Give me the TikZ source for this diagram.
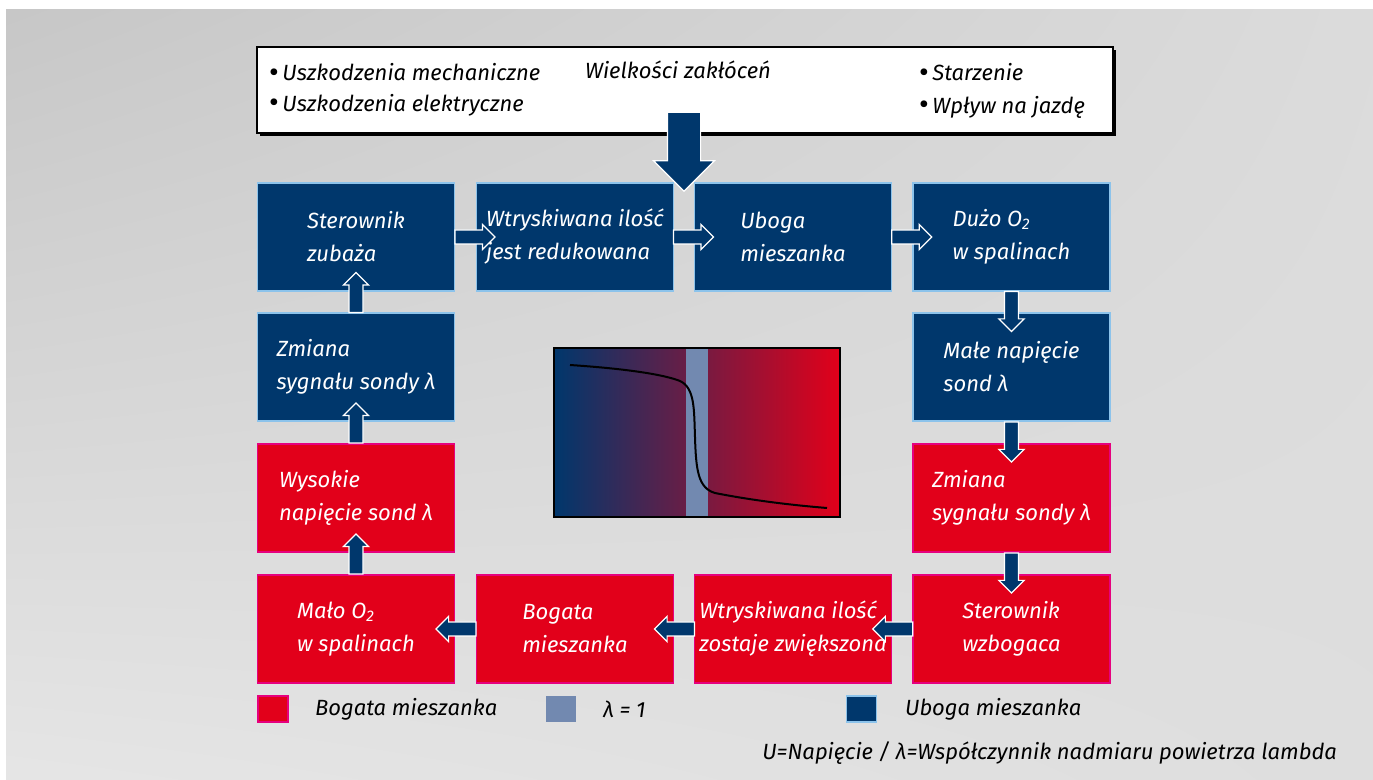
\documentclass[tikz,border=0pt]{standalone}
\usepackage{fontspec}
\setmainfont{Fira Sans}
\usetikzlibrary{shapes.arrows,shadows,shadings}
\definecolor{uboga}{RGB}{0,55,108}
\definecolor{bogata}{RGB}{226,0,26}
\definecolor{posrednia}{RGB}{122,58,88}
\definecolor{lambda}{RGB}{114,137,176}
\definecolor{ramkab}{RGB}{140,195,235}
\definecolor{ramkar}{RGB}{230,0,126}
\newcommand\kropka{{\upshape\fontsize{15}{15}\selectfont\raisebox{-0.6pt}{•}}}
\begin{document}
\begin{tikzpicture}[x=0.5pt,y=-0.5pt,
  txt/.style={font={\fontsize{11}{16.5}\selectfont\itshape}},
  box/.style={txt, minimum width=98.5pt, minimum height=54pt, inner sep=0pt, align=left, text=white, line width=0.6pt},
  ubox/.style={box, fill=uboga, draw=ramkab},
  rbox/.style={box, fill=bogata, draw=ramkar},
  flow/.style={single arrow, draw=white, fill=uboga, line width=0.6pt, inner sep=3.2pt, minimum height=20pt, single arrow head extend=2.8pt, single arrow tip angle=90, single arrow head indent=0pt},
  rflow/.style={flow, shape border rotate=0, xshift=3pt},
  lflow/.style={flow, shape border rotate=180, xshift=-3pt},
  uflow/.style={flow, shape border rotate=90, yshift=3pt},
  dflow/.style={flow, shape border rotate=270, yshift=-3pt},
  legend/.style={minimum width=15pt, minimum height=13pt, inner sep=0pt, line width=0.6pt}]
\useasboundingbox (0,0) rectangle (1373,780);
% tlo
\shade[upper left=gray!44, upper right=gray!28, lower left=gray!20, lower right=gray!26] (6,10) rectangle (1373,780);
% wielkosci zaklocen
\node[draw=black, fill=white, line width=0.8pt, minimum width=428pt, minimum height=43pt, drop shadow={shadow xshift=1.6pt, shadow yshift=-1.6pt, fill=black, opacity=1}] (zak) at (685,90) {};
\node[txt, anchor=west] (z1) at (262,73) {\kropka\,Uszkodzenia mechaniczne};
\node[txt, anchor=west] (z2) at (262,105) {\kropka\,Uszkodzenia elektryczne};
\node[txt, anchor=west] (z0) at (578,70) {Wielkości zakłóceń};
\node[txt, anchor=west] (z3) at (912,73) {\kropka\,Starzenie};
\node[txt, anchor=west] (z4) at (912,107) {\kropka\,Wpływ na jazdę};
% bloki
\node[ubox] (1) at (356,237) {Sterownik\\zubaża};
\node[ubox] (2) at (575,237) {Wtryskiwana ilość\\jest redukowana};
\node[ubox] (3) at (793,237) {Uboga\\mieszanka};
\node[ubox] (4) at (1011.5,237) {Dużo O\textsubscript{2}\\w spalinach};
\node[ubox] (5) at (1011.5,367) {Małe napięcie\\sond λ};
\node[rbox] (6) at (1011.5,498) {Zmiana\\sygnału sondy λ};
\node[rbox] (7) at (1011.5,629) {Sterownik\\wzbogaca};
\node[rbox] (8) at (793,629) {Wtryskiwana ilość\\zostaje zwiększona};
\node[rbox] (9) at (575,629) {Bogata\\mieszanka};
\node[rbox] (10) at (356,629) {Mało O\textsubscript{2}\\w spalinach};
\node[rbox] (11) at (356,498) {Wysokie\\napięcie sond λ};
\node[ubox] (12) at (356,367) {Zmiana\\sygnału sondy λ};
% charakterystyka sondy
\shade[left color=uboga, middle color=posrednia, right color=bogata] (554,348) rectangle (840,517);
\fill[lambda] (686,348) rectangle (708,517);
\draw[line width=1pt] (570,365) .. controls (630,369) and (665,375) .. (680,381)
  .. controls (695,388) and (694,410) .. (695,437)
  .. controls (696,470) and (698,488) .. (715,493)
  .. controls (750,500) and (790,505) .. (827,508);
\draw[line width=1pt] (554,348) rectangle (840,517);
% strzalki
\path (1) -- (2) node[midway, rflow] {};
\path (2) -- (3) node[midway, rflow] {};
\path (3) -- (4) node[midway, rflow] {};
\path (4) -- (5) node[midway, dflow] {};
\path (5) -- (6) node[midway, dflow] {};
\path (6) -- (7) node[midway, dflow] {};
\path (7) -- (8) node[midway, lflow] {};
\path (8) -- (9) node[midway, lflow] {};
\path (9) -- (10) node[midway, lflow] {};
\path (10) -- (11) node[midway, uflow] {};
\path (11) -- (12) node[midway, uflow] {};
\path (12) -- (1) node[midway, uflow] {};
\node[single arrow, draw=white, fill=uboga, line width=0.6pt, inner sep=8pt, minimum height=39.5pt, single arrow head extend=7pt, single arrow tip angle=90, single arrow head indent=0pt, shape border rotate=270] (wej) at (684,143.5) {};
% legenda
\node[legend, fill=bogata, draw=ramkar] (lr) at (273,709) {};
\node[txt, anchor=west] (lrt) at (308,709) {Bogata mieszanka};
\node[legend, fill=lambda] (ll) at (560.5,709) {};
\node[txt, anchor=west] (llt) at (596,709) {λ = 1};
\node[legend, fill=uboga, draw=ramkab] (lu) at (861.5,709) {};
\node[txt, anchor=west] (lut) at (898,709) {Uboga mieszanka};
\node[txt, anchor=east] (opis) at (1344,753) {U=Napięcie / λ=Współczynnik nadmiaru powietrza lambda};
\end{tikzpicture}
\end{document}
